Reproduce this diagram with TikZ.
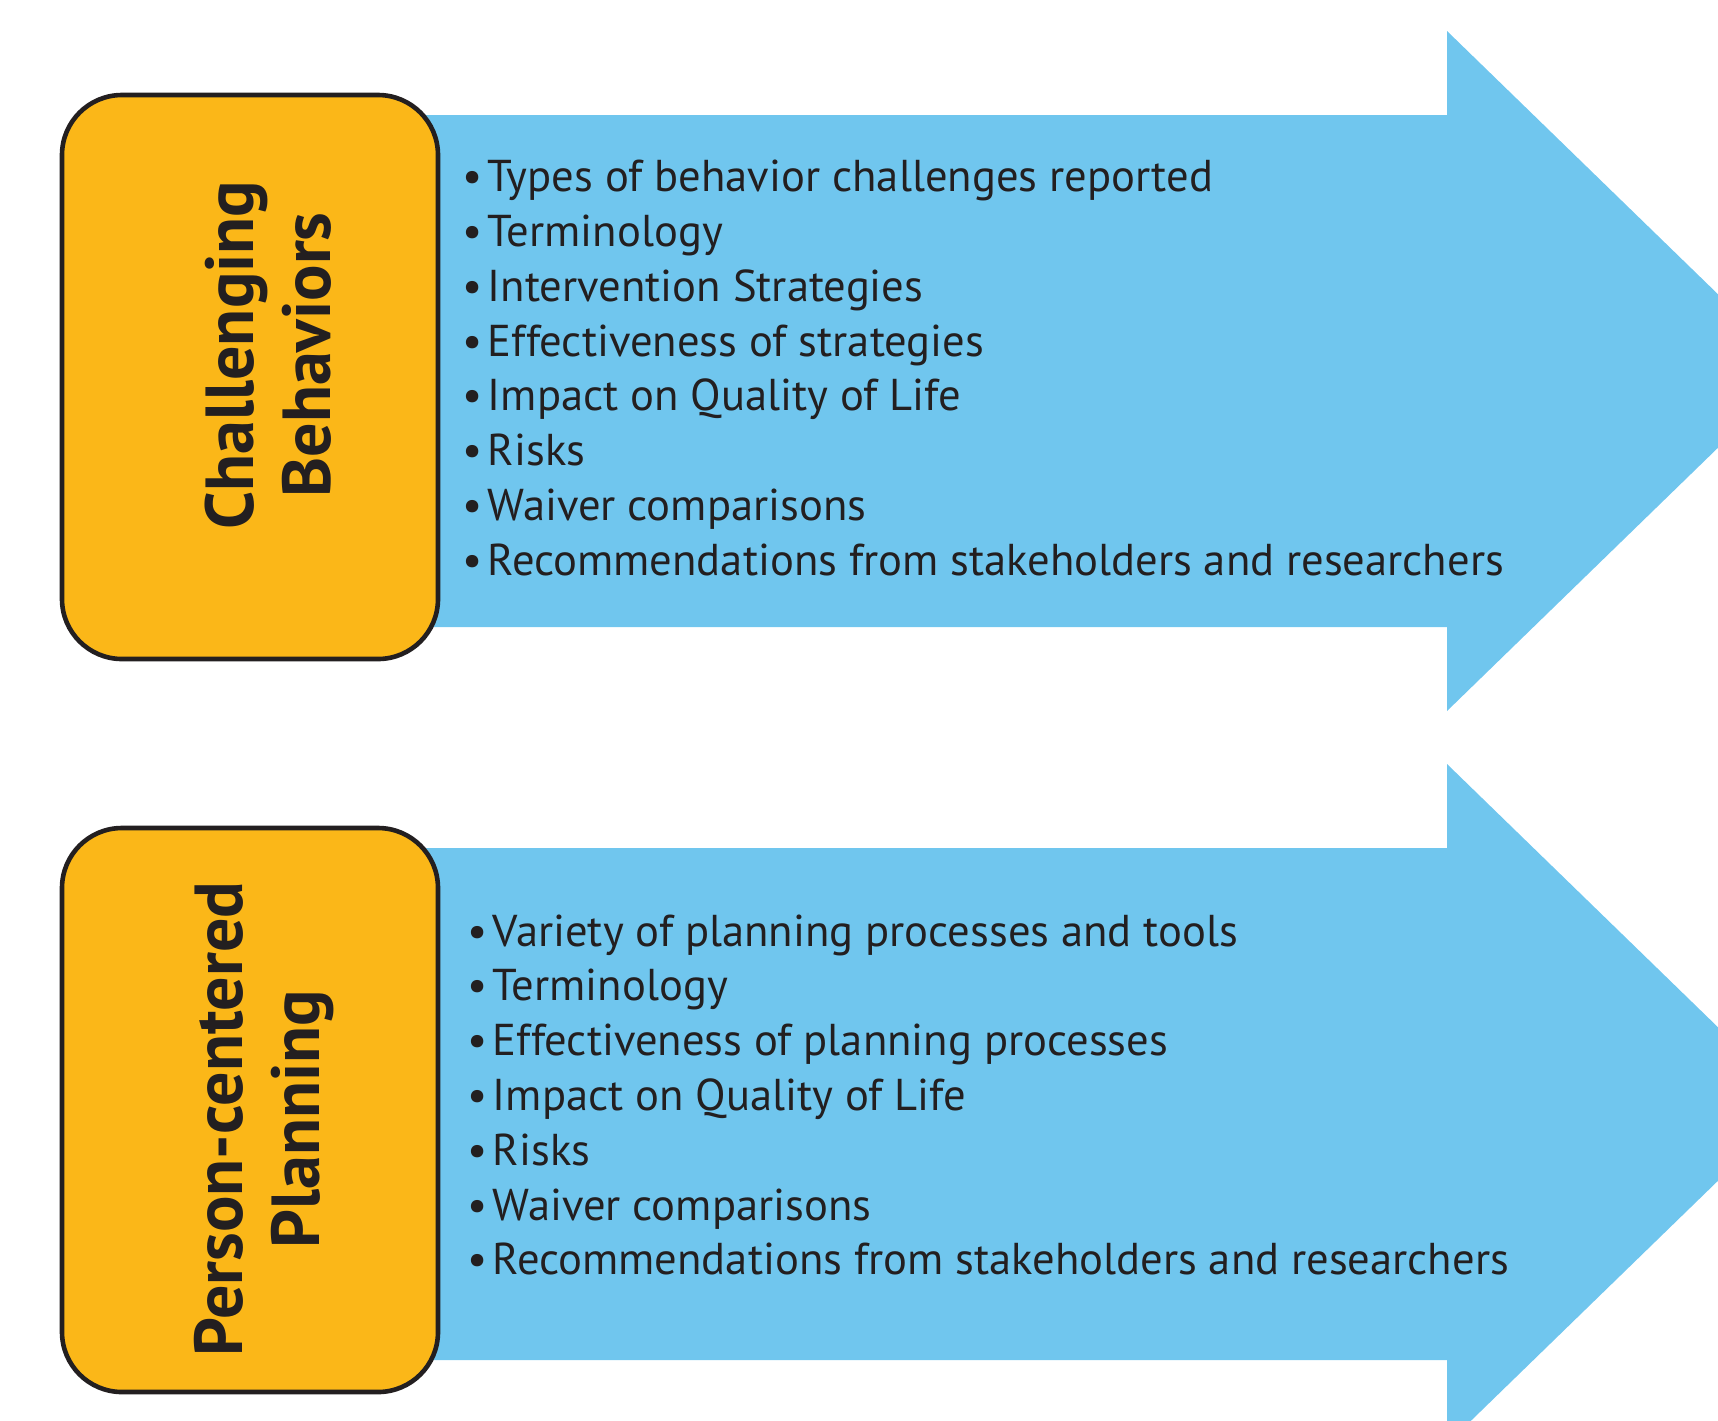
\documentclass[tikz,border=0pt]{standalone}
\usepackage{fontspec}
\setmainfont{PT Sans}
\usepackage{tikz}

\definecolor{boxorange}{RGB}{251,183,24}
\definecolor{arrowblue}{RGB}{112,198,238}
\definecolor{inkgray}{RGB}{35,31,32}

\tikzset{
  topicbox/.style={draw=inkgray, fill=boxorange, line width=2.3pt, rounded corners=30pt,
    minimum width=188pt, minimum height=282pt, inner sep=0pt},
  topictitle/.style={rotate=90, align=center, text=inkgray,
    font=\bfseries\fontsize{34}{38.5}\selectfont},
  itemlist/.style={anchor=west, align=left, inner sep=0pt, text=inkgray,
    font=\fontsize{22.3}{27.4}\selectfont},
}
\newcommand{\itm}{\textbullet\hspace{0.12em}}

\begin{document}
\begin{tikzpicture}[x=0.5pt, y=-0.5pt]
		\useasboundingbox (0,0) rectangle (1718,1420);
		\clip (0,0) rectangle (1718,1420);
		% blue arrows behind the boxes
		\foreach \cy in {371,1104}
			\fill[arrowblue] (400,\cy-256) -- (1447,\cy-256) -- (1447,\cy-340) -- (1797,\cy)
				-- (1447,\cy+340) -- (1447,\cy+256) -- (400,\cy+256) -- cycle;
		% orange boxes
		\node[topicbox] (cb) at (250,377) {};
		\node[topicbox] (pb) at (250,1110) {};
		\node[topictitle] (cbtitle) at (268,355) {Challenging\\Behaviors};
		\node[topictitle] (pbtitle) at (264,1119) {Person-centered\\Planning};
		% lists
		\node[itemlist] (cblist) at (462,368) {\itm Types of behavior challenges reported\\
			\itm Terminology\\
			\itm Intervention Strategies\\
			\itm Effectiveness of strategies\\
			\itm Impact on Quality of Life\\
			\itm Risks\\
			\itm Waiver comparisons\\
			\itm Recommendations from stakeholders and researchers};
		\node[itemlist] (pblist) at (467,1095) {\itm Variety of planning processes and tools\\
			\itm Terminology\\
			\itm Effectiveness of planning processes\\
			\itm Impact on Quality of Life\\
			\itm Risks\\
			\itm Waiver comparisons\\
			\itm Recommendations from stakeholders and researchers};
	\end{tikzpicture}
\end{document}
